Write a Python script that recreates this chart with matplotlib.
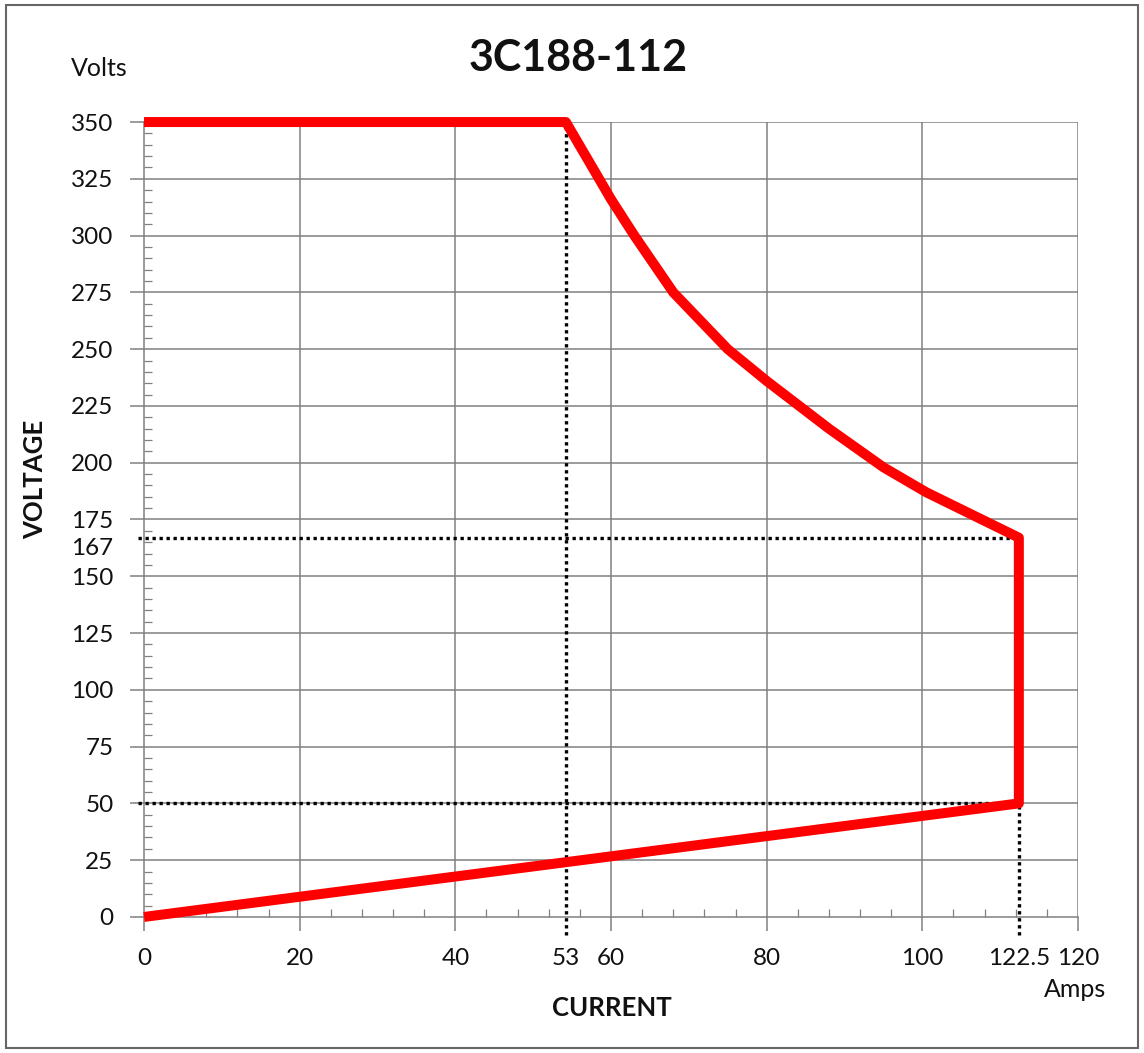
import matplotlib
matplotlib.use("Agg")
import matplotlib.pyplot as plt
from matplotlib.patches import Rectangle
from matplotlib.ticker import MultipleLocator

plt.rcParams["font.family"] = ["Lato", "DejaVu Sans"]

# operating envelope of the 3C188-112 (amps, volts)
amps = [0, 54.2, 60, 63, 68, 75, 80, 88, 95, 100.5, 112.4, 112.4, 0]
volts = [350, 350, 316, 300, 275, 250, 236, 215, 198, 187, 167, 50, 0]

# reference corners marked with dotted lines
knee_amps = 54.2
max_amps = 112.4
knee_volts = [167, 50]

x_ticks = [0, 20, 40, knee_amps, 60, 80, 100, max_amps, 120]
x_labels = ["0", "20", "40", "53", "60", "80", "100", "122.5", "120"]
y_ticks = [0, 25, 50, 75, 100, 125, 150, 167, 175, 200, 225, 250, 275, 300, 325, 350]
y_labels = [str(v) for v in y_ticks]

fig = plt.figure(figsize=(11.44, 10.53), dpi=100, facecolor="white")
ax = fig.add_axes([0.1259, 0.1292, 0.9423 - 0.1259, 0.8841 - 0.1292])

ax.set_xlim(0, 120)
ax.set_ylim(0, 350)

grid_c = "#808080"
for v in [20, 40, 60, 80, 100, 120]:
    ax.axvline(v, color=grid_c, lw=1.1, zorder=1)
for v in range(25, 351, 25):
    ax.axhline(v, color=grid_c, lw=1.1, zorder=1)

for s in ["top", "right"]:
    ax.spines[s].set_visible(False)
for s in ["left", "bottom"]:
    ax.spines[s].set_color(grid_c)
    ax.spines[s].set_linewidth(1.1)

ax.set_xticks(x_ticks)
ax.set_xticklabels(x_labels)
ax.set_yticks(y_ticks)
ax.set_yticklabels(y_labels)
ax.tick_params(axis="both", which="major", direction="out", length=10, width=1.1,
               color=grid_c, labelsize=17.5, labelcolor="#111111")
ax.tick_params(axis="x", which="major", pad=12)
ax.tick_params(axis="y", which="major", pad=12)
ax.xaxis.set_minor_locator(MultipleLocator(4))
ax.yaxis.set_minor_locator(MultipleLocator(5))
ax.tick_params(axis="both", which="minor", direction="in", length=6, width=0.9, color=grid_c)

# hide the tick marks at the dotted-line positions
for i, t in enumerate(ax.yaxis.get_major_ticks()):
    if y_ticks[i] == 167:
        t.tick1line.set_visible(False)
        t.label1.set_va("top")
for i, t in enumerate(ax.xaxis.get_major_ticks()):
    if x_ticks[i] in (knee_amps, max_amps):
        t.tick1line.set_visible(False)

dot = dict(color="black", lw=2.4, linestyle=(0, (1, 1.1)), zorder=3, clip_on=False)
for v in knee_volts:
    ax.plot([-0.8, max_amps], [v, v], **dot)
ax.plot([knee_amps, knee_amps], [-8, 350], **dot)
ax.plot([max_amps, max_amps], [-8, 167], **dot)

ax.plot(amps, volts, color="#ff0000", lw=7.2, solid_joinstyle="round",
        solid_capstyle="butt", zorder=4, clip_on=False)

fig.text(0.505, 0.945, "3C188-112", ha="center", va="center", fontsize=31,
         fontweight="bold", color="#111111")
fig.text(0.087, 0.935, "Volts", ha="center", va="center", fontsize=18, color="#111111")
fig.text(0.031, 0.545, "VOLTAGE", ha="center", va="center", fontsize=18.5,
         fontweight="bold", rotation=90, color="#111111")
fig.text(0.535, 0.043, "CURRENT", ha="center", va="center", fontsize=18.5,
         fontweight="bold", color="#111111")
fig.text(0.94, 0.06, "Amps", ha="center", va="center", fontsize=18, color="#111111")

fig.patches.append(Rectangle((0.005, 0.005), 0.99, 0.99, transform=fig.transFigure,
                             fill=False, edgecolor="#666666", lw=1.5))

fig.savefig("out.png", dpi=100, facecolor="white")
